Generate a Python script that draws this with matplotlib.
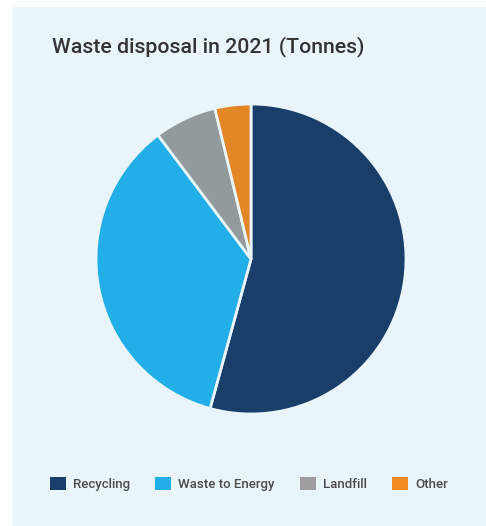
import matplotlib.pyplot as plt
from matplotlib.patches import Rectangle, Patch

labels = ['Recycling', 'Waste to Energy', 'Landfill', 'Other']
values = [54.25, 35.5, 6.5, 3.75]
colors = ['#1a3e6a', '#22aee6', '#939a9c', '#e38625']
legend_colors = ['#1a3e6a', '#22aee6', '#9e9e9e', '#f28a24']

plt.rcParams['font.family'] = ['Roboto', 'DejaVu Sans']

fig = plt.figure(figsize=(4.86, 5.26), dpi=100)
fig.patches.append(Rectangle((13 / 486, 0), 1 - 13 / 486, 1 - 7 / 526,
                             transform=fig.transFigure, facecolor='#eaf4fb',
                             edgecolor='none', zorder=-5))

# pie: center ~ (251, 259) px, radius ~155 px
ax = fig.add_axes([(251 - 155) / 486, (526 - 259 - 155) / 526, 310 / 486, 310 / 526])
ax.pie(values, colors=colors, startangle=90, counterclock=False,
       wedgeprops=dict(edgecolor='#eaf4fb', linewidth=2))
ax.set_xlim(-1, 1)
ax.set_ylim(-1, 1)
ax.set_aspect('equal')
ax.set_zorder(2)

fig.text(52 / 486, 1 - 47 / 526, 'Waste disposal in 2021 (Tonnes)',
         fontsize=15.3, color='#333333', va='center', ha='left',
         weight='medium')

handles = [Patch(facecolor=c, edgecolor='none') for c in legend_colors]
leg = fig.legend(handles, labels, loc='center', ncol=4,
                 bbox_to_anchor=(249 / 486, 1 - 484 / 526),
                 frameon=False, handlelength=1.2, handleheight=1.2,
                 handletextpad=0.55, columnspacing=1.9,
                 prop=dict(size=9.5, weight='medium'))
for t in leg.get_texts():
    t.set_color('#4a4a4a')

fig.savefig('out.png', dpi=100)
